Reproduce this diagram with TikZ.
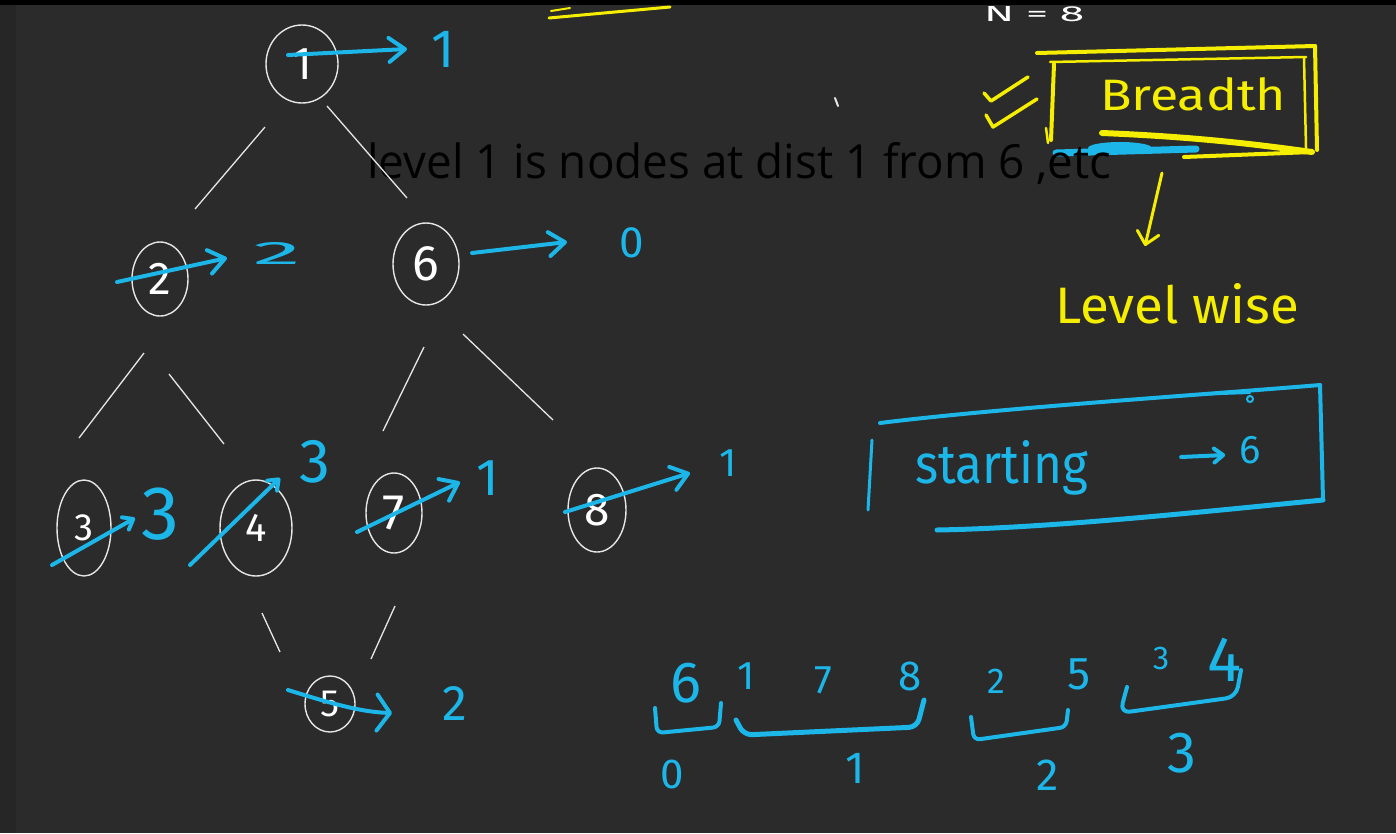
\documentclass[tikz,border=0pt]{standalone}
\usepackage{fontspec}
\usepackage{graphicx}
\setmainfont{Open Sans}
\newfontfamily\hand{Fira Sans}
\newfontfamily\notefont{Open Sans}
\usetikzlibrary{arrows.meta,calc,shapes.geometric}
\definecolor{bg}{HTML}{2B2B2B}
\definecolor{bgl}{HTML}{262626}
\definecolor{pen}{RGB}{28,182,232}
\definecolor{hl}{RGB}{245,238,0}
\definecolor{chalk}{HTML}{E6E6E6}
\newcommand{\hsz}[1]{\fontsize{#1}{#1}\selectfont\hand}
\begin{document}
\begin{tikzpicture}[x=1pt,y=-1pt,
  tnode/.style={ellipse, draw=chalk, line width=1.4pt, inner sep=0pt, text=white, font=\hsz{46}},
  edge/.style={draw=chalk, line width=1.3pt},
  bluestroke/.style={draw=pen, line width=4pt, line cap=round, line join=round},
  bluearrow/.style={bluestroke, -{Straight Barb[length=16pt,width=24pt,round]}},
  smallarrow/.style={bluestroke, -{Straight Barb[length=9pt,width=14pt,round]}},
  ystroke/.style={draw=hl, line width=4pt, line cap=round, line join=round},
  yarrow/.style={ystroke, line width=3pt, -{Straight Barb[length=12pt,width=22pt,round]}},
  bluelbl/.style={text=pen, inner sep=0pt},
  ylbl/.style={text=hl, inner sep=0pt},
]
\fill[bg] (0,0) rectangle (1396,833);
\useasboundingbox (0,0) rectangle (1396,833);
\clip (0,0) rectangle (1396,833);
\fill[bgl] (0,5) rectangle (16,833);

% tree nodes
\node[tnode, minimum width=72pt, minimum height=78pt] (n1) at (302,64) {1};
\node[tnode, minimum width=56pt, minimum height=74pt] (n2) at (160,279) {2};
\node[tnode, minimum width=66pt, minimum height=82pt, font=\hsz{50}] (n6) at (426,264) {6};
\node[tnode, minimum width=54pt, minimum height=96pt, font=\hsz{38}] (n3) at (84,528) {3};
\node[tnode, minimum width=72pt, minimum height=96pt, font=\hsz{40}] (n4) at (256,528) {4};
\node[tnode, minimum width=56pt, minimum height=80pt, font=\hsz{50}] (n7) at (394,513) {7};
\node[tnode, minimum width=58pt, minimum height=84pt] (n8) at (597,510) {8};
\node[tnode, minimum width=50pt, minimum height=56pt, font=\hsz{38}] (n5) at (330,704) {5};

% blue labels
\node[bluelbl, font=\hsz{54}] (l1) at (443,49) {1};
\node[bluelbl] (l2) at (277,253) {\resizebox{48pt}{22pt}{\hand 2}};
\node[bluelbl, font=\hsz{44}] (l6) at (632,243) {0};
\node[bluelbl, font=\hsz{76}] (l3) at (160,514) {3};
\node[bluelbl, font=\hsz{62}] (l4) at (315,462) {3};
\node[bluelbl, font=\hsz{52}] (l7) at (488,478) {1};
\node[bluelbl, font=\hsz{40}] (l8) at (728,463) {1};
\node[bluelbl, font=\hsz{50}] (l5) at (455,704) {2};

% blue strike-through arrows
\draw[bluearrow] ($(n1)+(-14,-9)$) -- ($(l1)+(-36,0)$);
\draw[bluearrow] ($(n2)+(-43,3)$) -- ($(l2)+(-50,5)$);
\draw[bluearrow] ($(n6)+(46,-11)$) -- ($(l6)+(-65,-1)$);
\draw[smallarrow] ($(n3)+(-32,37)$) -- ($(l3)+(-25,4)$);
\draw[smallarrow] ($(n4)+(-66,37)$) -- ($(l4)+(-35,16)$);
\draw[bluearrow] ($(n7)+(-37,19)$) -- ($(l7)+(-28,4)$);
\draw[bluearrow] ($(n8)+(-32,2)$) -- ($(l8)+(-38,10)$);
\draw[bluestroke, -{Straight Barb[length=13pt,width=36pt,round]}] ($(n5)+(-42,-14)$) .. controls (330,703) and (360,712) .. ($(l5)+(-63,9)$);

% yellow top stroke and white partial text
\draw[ystroke, line width=3pt] (549,18) -- (670,7);
\draw[ystroke, line width=2pt] (551,11) -- (570,8);
\node[anchor=base west, text=white, inner sep=0pt] (nn) at (984,21) {\resizebox{100pt}{15pt}{\hand N = 8}};
\draw[chalk, line width=2pt, line cap=round] (835,98) -- (838,106);

% Breadth box
\node[ylbl, anchor=base west] (breadth) at (1100,110) {\resizebox{186pt}{33pt}{\hand Breadth}};
\draw[ystroke] (1037,53) -- (1315,46);
\draw[ystroke, line width=2.5pt] (1050,62) -- (1306,57);
\draw[ystroke] (1315,46) -- (1317,150);
\draw[ystroke, line width=2.5pt] (1304,58) -- (1306,148);
\draw[ystroke] (1054,64) -- (1051,140);
\draw[ystroke, line width=2.5pt] (1046,128) -- (1048,143);
\draw[ystroke, line width=6pt] (1102,133) .. controls (1200,137) and (1260,145) .. (1312,152);
\draw[ystroke] (1184,157) -- (1312,152);
\draw[ystroke, line width=3.5pt] (984,93) -- (991,101) -- (1028,77);
\draw[ystroke, line width=3.5pt] (986,115) -- (993,127) -- (1037,99);
\draw[pen, line width=7pt, line cap=round] (1056,153) -- (1196,149);
\fill[pen] (1120,148) ellipse [x radius=32pt, y radius=6pt];

\node[ylbl, anchor=base west] (lvl) at (1055,323) {\resizebox{244pt}{40pt}{\hand Level wise}};
\draw[yarrow] ($(breadth.base west)+(62,63)$) -- ($(lvl.base west)+(90,-77)$);

% starting box
\node[bluelbl, anchor=base west] (start) at (915,483) {\resizebox{173pt}{43pt}{\hand starting}};
\node[bluelbl, font=\hsz{40}] (six) at (1250,450) {6};
\draw[smallarrow] ($(six.west)+(-58,7)$) -- ($(six.west)+(-14,5)$);
\draw[bluestroke] (880,423) .. controls (1000,408) and (1200,395) .. (1320,385);
\draw[bluestroke, line width=2pt] (1190,395) -- (1250,393);
\draw[pen, line width=2pt] (1250,399) circle [radius=3pt];
\draw[bluestroke] (1320,385) -- (1323,500);
\draw[bluestroke, line width=5pt] (1323,500) .. controls (1200,512) and (1050,528) .. (937,530);
\draw[bluestroke, line width=3pt] (872,440) -- (868,510);

% bottom sequence
\node[bluelbl, font=\hsz{58}] (s6) at (686,683) {6};
\node[bluelbl, font=\hsz{40}] (s1) at (746,676) {1};
\node[bluelbl, font=\hsz{40}] (s7) at (823,680) {7};
\node[bluelbl, font=\hsz{42}] (s8) at (910,676) {8};
\node[bluelbl, font=\hsz{36}] (s2) at (996,681) {2};
\node[bluelbl, font=\hsz{46}] (s5) at (1079,674) {5};
\node[bluelbl, font=\hsz{33}] (s3) at (1161,658) {3};
\node[bluelbl, font=\hsz{64}] (s4) at (1225,660) {4};
\draw[bluestroke, rounded corners=6pt] (655,708) -- (657,733) -- (719,727) -- (721,703);
\draw[bluestroke, line width=5pt, rounded corners=8pt] (736,720) -- (744,735) -- (917,727) -- (924,700);
\draw[bluestroke, rounded corners=6pt] (971,717) -- (974,740) -- (1066,727) -- (1068,710);
\draw[bluestroke, rounded corners=10pt] (1127,687) -- (1120,713) -- (1236,697) -- (1241,670);
\node[bluelbl, font=\hsz{42}] (v0) at (672,774) {0};
\node[bluelbl, font=\hsz{45}] (v1) at (855,768) {1};
\node[bluelbl, font=\hsz{45}] (v2) at (1048,775) {2};
\node[bluelbl, font=\hsz{58}] (v3) at (1182,753) {3};

% overlay text
\node[anchor=base west, inner sep=0pt, text=black] (note) at (367,178) {\resizebox{744pt}{36pt}{\notefont level 1 is nodes at dist 1 from 6 ,etc}};

% tree edges
\draw[edge] ($(n1)+(-37,63)$) -- ($(n2)+(35,-70)$);
\draw[edge] ($(n1)+(25,42)$) -- ($(n6)+(-19,-66)$);
\draw[edge] ($(n2)+(-16,74)$) -- ($(n3)+(-5,-90)$);
\draw[edge] ($(n2)+(9,95)$) -- ($(n4)+(-32,-84)$);
\draw[edge] ($(n6)+(-2,83)$) -- ($(n7)+(-11,-82)$);
\draw[edge] ($(n6)+(37,70)$) -- ($(n8)+(-44,-90)$);
\draw[edge] ($(n4)+(6,85)$) -- ($(n5)+(-50,-52)$);
\draw[edge] ($(n7)+(1,93)$) -- ($(n5)+(41,-45)$);

\fill[black] (0,0) rectangle (1396,5);
\end{tikzpicture}
\end{document}
